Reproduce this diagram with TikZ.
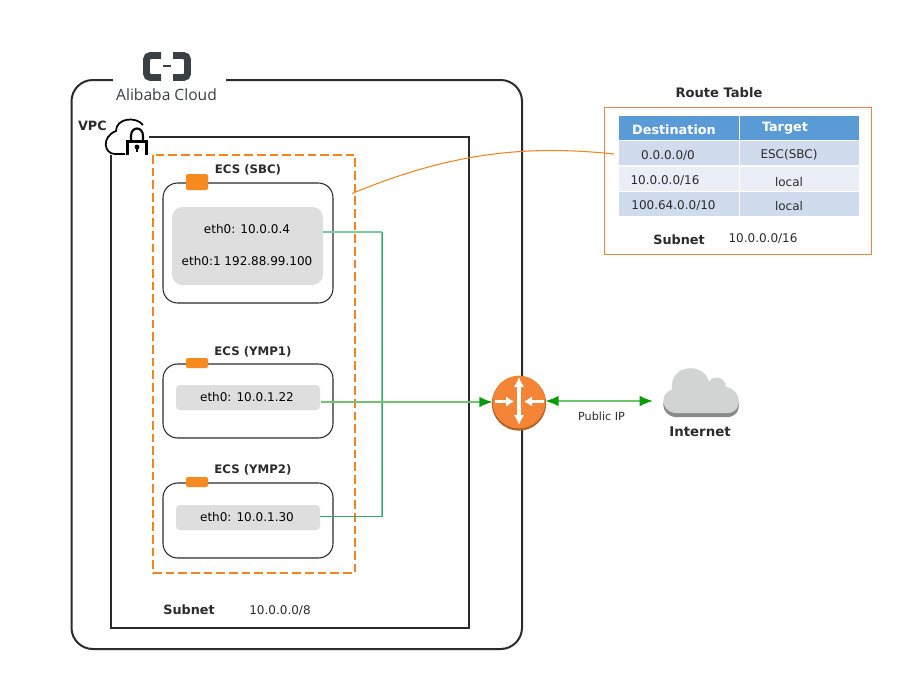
\documentclass[tikz,border=0pt]{standalone}
\usepackage{fontspec}
\setmainfont{DejaVu Sans}
\newfontfamily\logofont{Open Sans}
\usetikzlibrary{arrows.meta,calc}
\definecolor{inkc}{HTML}{2B2B2B}
\definecolor{orangec}{HTML}{F68A1E}
\definecolor{dashc}{HTML}{F5841F}
\definecolor{routerc}{HTML}{F58536}
\definecolor{routerd}{HTML}{B4622B}
\definecolor{grayc}{HTML}{DEDEDE}
\definecolor{tealc}{HTML}{2EAA6B}
\definecolor{teall}{HTML}{7CCBA0}
\definecolor{greenl}{HTML}{72C472}
\definecolor{greena}{HTML}{0A9B0A}
\definecolor{headc}{HTML}{5B9BD5}
\definecolor{rowa}{HTML}{D0DCEE}
\definecolor{rowb}{HTML}{E9EEF7}
\definecolor{tablec}{HTML}{ED8545}
\definecolor{cloudc}{HTML}{D2D3D3}
\definecolor{cloudd}{HTML}{8A8A8A}
\definecolor{logoc}{HTML}{3A3F45}
\tikzset{
  x=0.75pt,y=-0.75pt,
  every node/.style={inner sep=0pt,outer sep=0pt,text=inkc},
  lab/.style={font=\fontsize{9}{11}\selectfont,text=black},
  small/.style={font=\fontsize{9}{11}\selectfont},
  bold/.style={font=\fontsize{9.6}{11}\selectfont\bfseries},
  ecsfont/.style={font=\fontsize{8.8}{11}\selectfont\bfseries},
  ecsbox/.style={draw=inkc,line width=0.8pt,fill=white,rounded corners=11pt},
  tagbox/.style={fill=orangec,rounded corners=1.5pt},
  ethbox/.style={fill=grayc,rounded corners=3pt},
  green tip/.style={-{Latex[length=10pt,width=8pt,color=greena]}},
  cell/.style={text=inkc,font=\fontsize{9}{11}\selectfont},
}
\begin{document}
\begin{tikzpicture}
\useasboundingbox (0,0) rectangle (904,683);
% outer VPC frame
\draw[inkc,line width=1.5pt,rounded corners=16pt] (71.5,120) -- (71.5,80) -- (522,80) -- (522,649) -- (71.5,649) -- cycle;
\fill[white] (113,70) rectangle (226,105);
% logo
\draw[logoc,line width=5.2pt,rounded corners=3pt] (161,55.5) -- (146.5,55.5) -- (146.5,77.5) -- (161,77.5);
\draw[logoc,line width=5.2pt,rounded corners=3pt] (173,55.5) -- (187.5,55.5) -- (187.5,77.5) -- (173,77.5);
\draw[logoc,line width=0.8pt] (163,66) -- (171,66);
\node[text=logoc,font=\logofont\fontsize{11.7}{14}\selectfont] (logo) at (166.5,95) {Alibaba Cloud};
% subnet frame
\draw[inkc,line width=1.5pt] (149,137) -- (469,137) -- (469,628) -- (111,628) -- (111,155);
% cloud + lock
\draw[black,line width=1.3pt] (125,154) -- (115,154) .. controls (104,154) and (101,137) .. (116,131) .. controls (116,118) and (136,116) .. (143,125);
\draw[black,line width=1.6pt] (127.5,154.5) -- (127.5,141.5) -- (146.5,141.5) -- (146.5,154.5);
\draw[black,line width=1.6pt] (131,141) -- (131,136) .. controls (131,126) and (143,126) .. (143,136) -- (143,141);
\fill[black] (137,147) circle (2.4);
\fill[black] (136,147) rectangle (138,152);
\node[bold,anchor=west] (vpc) at (78,125.5) {VPC};
% dashed ECS group
\draw[dashc,line width=1.7pt,dash pattern=on 6.5pt off 3pt] (153,155) rectangle (355,573);
% ECS boxes
\path[ecsbox] (163,183) rectangle (333,303);
\path[ecsbox] (163,364) rectangle (333,438);
\path[ecsbox] (163,483) rectangle (333,558);
\path[tagbox] (186,174) rectangle (208,190);
\path[tagbox] (186,358) rectangle (208,368);
\path[tagbox] (186,477) rectangle (208,487);
\node[ecsfont] (ecsa) at (248,169.5) {ECS (SBC)};
\node[ecsfont] (ecsb) at (253,352) {ECS (YMP1)};
\node[ecsfont] (ecsc) at (253,469.5) {ECS (YMP2)};
% interfaces
\path[fill=grayc,rounded corners=8pt] (172,207) rectangle (323,285);
\path[ethbox] (176,385) rectangle (320,410);
\path[ethbox] (176,505) rectangle (320,530);
\node[lab] (etha) at (247,229.5) {eth0: 10.0.0.4};
\node[lab] (ethaa) at (247,261.5) {eth0:1 192.88.99.100};
\node[lab] (ethb) at (247,397.5) {eth0: 10.0.1.22};
\node[lab] (ethc) at (247,517.5) {eth0: 10.0.1.30};
\node[bold] (sub) at (189,609.5) {Subnet};
\node[small] (subv) at (280,610.5) {10.0.0.0/8};
\coordinate (pa) at (323,232);
\coordinate (pb) at (321,402);
\coordinate (pc) at (320,516);
\coordinate (busa) at (382,232);
\coordinate (busc) at (382,516);
% router
\fill[routerd] (519,403.5) circle (27.2);
\node[circle,fill=routerc,minimum size=39.5pt] (router) at (519,402) {};
\draw[white,line width=2.4pt,{Latex[length=7.5pt,width=8pt]}-{Latex[length=7.5pt,width=8pt]}] (519,377) -- (519,425);
\draw[white,line width=2.6pt,-{Latex[length=6pt,width=8pt]}] (495,401.5) -- (514,401.5);
\draw[white,line width=2.6pt,-{Latex[length=6pt,width=8pt]}] (544,401.5) -- (524,401.5);
% connectors
\draw[teall,line width=1.2pt] (pa) -- (busa);
\draw[teall,line width=1pt] (busa) -- (busc);
\draw[tealc,line width=0.7pt] (busa) -- (busc) -- (pc);
\draw[greenl,green tip,line width=1.3pt] (pb) -- (router.west);
% internet cloud
\def\cloudpath{(675,413) .. controls (660,411) and (660,392) .. (672,390) .. controls (669,363) and (705,362) .. (709,382) .. controls (712,375) and (725,376) .. (726,387) .. controls (742,389) and (744,413) .. (727,413) -- cycle}
\fill[cloudd] [shift={(0,4)}] \cloudpath;
\fill[cloudc] \cloudpath;
\node[font=\fontsize{10}{12}\selectfont\bfseries] (inet) at (700,432) {Internet};
\node[font=\fontsize{8.4}{10}\selectfont] (pub) at (601.5,416) {Public IP};
\draw[greenl,line width=1.3pt,{Latex[length=10pt,width=8pt,color=greena]}-{Latex[length=10pt,width=8pt,color=greena]}] (router.east) ++(0,-1) -- (653,401);
% route table
\draw[tablec,line width=0.7pt] (604.5,107.5) rectangle (871.5,254.5);
\node[font=\fontsize{9.8}{11}\selectfont\bfseries] (rt) at (719,93) {Route Table};
\path[fill=headc] (619,116) rectangle (859,139.5);
\path[fill=rowa] (619,141) rectangle (859,165);
\path[fill=rowb] (619,166.5) rectangle (859,191);
\path[fill=rowa] (619,191.5) rectangle (859,216);
\draw[white,line width=0.6pt] (739,116) -- (739,216);
\node[font=\fontsize{9.6}{11}\selectfont\bfseries,text=white] (hd) at (674,129.5) {Destination};
\node[font=\fontsize{9.6}{11}\selectfont\bfseries,text=white] (ht) at (785,128.5) {Target};
\node[cell] (c1) at (668,156) {0.0.0.0/0};
\node[cell] (c2) at (789,154.5) {ESC(SBC)};
\node[cell] (c3) at (665,180.5) {10.0.0.0/16};
\node[cell] (c4) at (789,182.5) {local};
\node[cell] (c5) at (673.5,205.5) {100.64.0.0/10};
\node[cell] (c6) at (789,206.5) {local};
\node[bold] (sb) at (679,239.5) {Subnet};
\node[cell] (sv) at (763,238.5) {10.0.0.0/16};
\coordinate (ca) at (352,193.5);
\coordinate (cb) at (614,154);
\draw[dashc,line width=0.8pt] (ca) .. controls (445,155) and (520,144) .. (cb);
\end{tikzpicture}
\end{document}
